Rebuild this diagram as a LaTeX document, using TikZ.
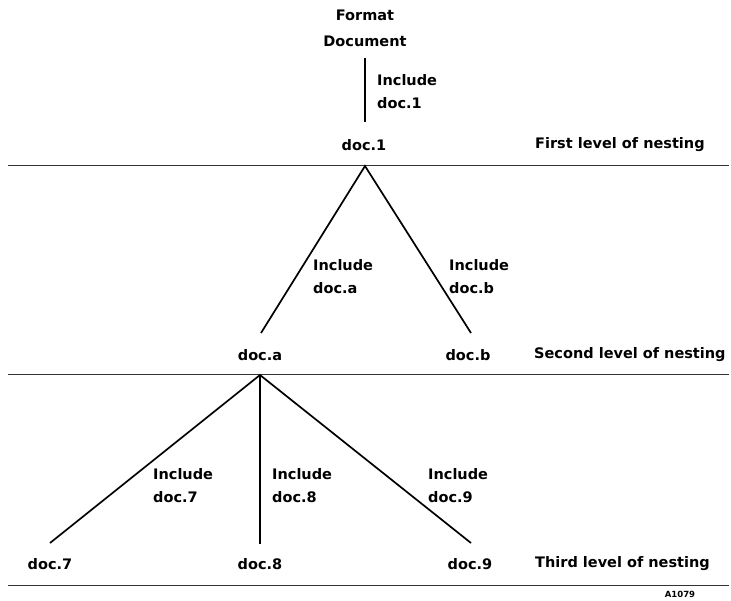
\documentclass[tikz,border=0pt]{standalone}
\usepackage{fontspec}
\setmainfont{DejaVu Sans}
\begin{document}
\begin{tikzpicture}[x=1pt,y=-1pt,
  lbl/.style={font=\fontsize{14.5}{23}\selectfont\bfseries, inner sep=0pt},
  inc/.style={lbl, anchor=west, align=left},
  lev/.style={lbl, anchor=west},
  tree/.style={line width=1.7pt},
  rule/.style={line width=0.9pt, black!80}]
\useasboundingbox (0,0) rectangle (731,600);
% top
\node[lbl, align=center, font=\fontsize{14.5}{26}\selectfont\bfseries] (fmt) at (365,28) {Format\\Document};
\coordinate (t0) at (365,58);
\coordinate (t1) at (365,122);
\draw[tree] (t0) -- (t1);
\node[inc] (inc1) at (377,92) {Include\\doc.1};
\node[lbl] (doc1) at (364,145) {doc.1};
\node[lev] (lab1) at (535,145) {First level of nesting};
\coordinate (r1a) at (8,165); \coordinate (r1b) at (729,165);
\draw[rule] (r1a) -- (r1b);
% second level
\coordinate (ap1) at (365,166);
\coordinate (ea) at (261,333);
\coordinate (eb) at (471,333);
\draw[tree, line join=miter] (ea) -- (ap1) -- (eb);
\node[inc] (incA) at (313,276.5) {Include\\doc.a};
\node[inc] (incB) at (449,276.5) {Include\\doc.b};
\node[lbl] (docA) at (260,355) {doc.a};
\node[lbl] (docB) at (468,355) {doc.b};
\node[lev] (lab2) at (534,355) {Second level of nesting};
\coordinate (r2a) at (8,374); \coordinate (r2b) at (729,374);
\draw[rule] (r2a) -- (r2b);
% third level
\coordinate (ap2) at (260,375);
\coordinate (e7) at (50,543);
\coordinate (e8) at (260,544);
\coordinate (e9) at (471,543);
\draw[tree, line join=miter] (e7) -- (ap2) -- (e9);
\draw[tree] (ap2) -- (e8);
\node[inc] (inc7) at (153,485.5) {Include\\doc.7};
\node[inc] (inc8) at (272,485.5) {Include\\doc.8};
\node[inc] (inc9) at (428,485.5) {Include\\doc.9};
\node[lbl] (doc7) at (50,564) {doc.7};
\node[lbl] (doc8) at (260,564) {doc.8};
\node[lbl] (doc9) at (470,564) {doc.9};
\node[lev] (lab3) at (535,564) {Third level of nesting};
\coordinate (r3a) at (8,585); \coordinate (r3b) at (729,585);
\draw[rule] (r3a) -- (r3b);
\node[font=\fontsize{8.5}{10}\selectfont\bfseries, inner sep=0pt] (code) at (680,594) {A1079};
\end{tikzpicture}
\end{document}
